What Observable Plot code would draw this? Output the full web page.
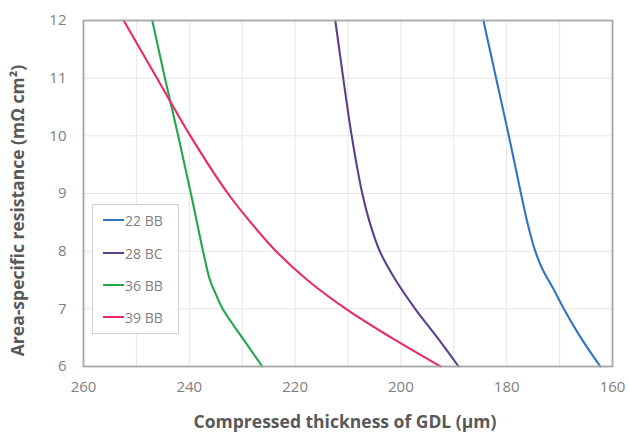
<!DOCTYPE html>
<html>
<head>
<meta charset="utf-8">
<script src="https://cdn.jsdelivr.net/npm/d3@7"></script>
<script src="https://cdn.jsdelivr.net/npm/@observablehq/plot@0.6"></script>
<style>
  html, body { margin: 0; padding: 0; background: #fff; }
  #wrap { position: relative; width: 629px; height: 435px; overflow: hidden; font-family: "Open Sans", sans-serif; }
  #legend { position: absolute; left: 92px; top: 204px; width: 87px; height: 130px; border: 1px solid #d0d0d0; background: #fff; box-sizing: border-box; }
  .row { position: absolute; left: 10px; height: 16px; display: flex; align-items: center; font-size: 14px; color: #7f7f7f; }
  .sw { width: 21px; height: 0; border-top: 2.5px solid; margin-right: 1px; }
</style>
</head>
<body>
<div id="wrap"></div>
<script>
// Series: compressed thickness (µm) vs area-specific resistance (mΩ cm²)
const seriesNames = ["22 BB", "28 BC", "36 BB", "39 BB"];
const seriesColors = ["#2e75c4", "#5e3f8e", "#22a84c", "#eb2a60"];

const bb22Thickness = [184.4, 182.0, 179.6, 177.3, 176.1, 175.4, 174.6, 173.3, 170.9, 169.2, 166.0, 162.3];
const bb22Resistance = [12, 11, 10, 9, 8.5, 8.25, 8, 7.7, 7.3, 7, 6.5, 6];

const bc28Thickness = [212.4, 210.9, 209.3, 207.3, 205.9, 204.0, 201.0, 197.3, 193.1, 189.1];
const bc28Resistance = [12, 11, 10, 9, 8.5, 8, 7.5, 7, 6.5, 6];

const bb36Thickness = [247.0, 244.6, 242.1, 239.7, 237.4, 236.1, 235.2, 233.7, 230.0, 226.2];
const bb36Resistance = [12, 11, 10, 9, 8, 7.5, 7.3, 7, 6.5, 6];

const bb39Thickness = [252.4, 246.1, 239.8, 232.7, 228.4, 223.6, 217.7, 210.4, 201.8, 192.5];
const bb39Resistance = [12, 11, 10, 9, 8.5, 8, 7.5, 7, 6.5, 6];

const xTickLabels = [260, 240, 220, 200, 180, 160];
const xGrid = [250, 240, 230, 220, 210, 200, 190, 180, 170];
const yTickLabels = [6, 7, 8, 9, 10, 11, 12];

const xTitle = "Compressed thickness of GDL (µm)";
const yTitle = "Area-specific resistance (mΩ cm²)";

const thick = [bb22Thickness, bc28Thickness, bb36Thickness, bb39Thickness];
const res = [bb22Resistance, bc28Resistance, bb36Resistance, bb39Resistance];
const rows = [];
seriesNames.forEach((name, i) => {
  const pts = thick[i].map((t, j) => ({series: name, x: t, y: res[i][j]}));
  pts.sort((a, b) => a.y - b.y);
  rows.push(...pts);
});

const tickColor = "#7f7f7f";
const titleColor = "#595959";

const chart = Plot.plot({
  width: 629,
  height: 435,
  marginLeft: 83,
  marginTop: 20,
  marginRight: 17,
  marginBottom: 69,
  style: {fontFamily: "Open Sans, sans-serif", background: "#fff"},
  x: {domain: [260, 160], label: null},
  y: {domain: [6, 12], label: null},
  color: {domain: seriesNames, range: seriesColors},
  marks: [
    Plot.gridX(xGrid, {stroke: "#e6e6e6", strokeOpacity: 1, strokeWidth: 1}),
    Plot.gridY(yTickLabels, {stroke: "#e6e6e6", strokeOpacity: 1, strokeWidth: 1}),
    Plot.axisX(xTickLabels, {tickSize: 0, tickPadding: 15, fontSize: 15, fill: tickColor, label: null, tickFormat: "d"}),
    Plot.axisY(yTickLabels, {tickSize: 0, tickPadding: 17, fontSize: 15, fill: tickColor, label: null, tickFormat: "d"}),
    Plot.line(rows, {x: "x", y: "y", z: "series", stroke: "series", strokeWidth: 2.1, curve: "catmull-rom"}),
    Plot.frame({stroke: "#a6a6a6", strokeWidth: 1.8}),
    Plot.text([xTitle], {frameAnchor: "bottom", dy: 61, dx: -3, fontSize: 17.5, fontWeight: "bold", fill: titleColor}),
    Plot.text([yTitle], {frameAnchor: "left", dx: -65, dy: 17, rotate: -90, textAnchor: "middle", fontSize: 17.5, fontWeight: "bold", fill: titleColor})
  ]
});

const wrap = document.getElementById("wrap");
wrap.appendChild(chart);

const legend = document.createElement("div");
legend.id = "legend";
const rowTops = [7, 40, 72, 104];
seriesNames.forEach((name, i) => {
  const r = document.createElement("div");
  r.className = "row";
  r.style.top = rowTops[i] + "px";
  const sw = document.createElement("span");
  sw.className = "sw";
  sw.style.borderTopColor = seriesColors[i];
  const lab = document.createElement("span");
  lab.textContent = name;
  r.appendChild(sw);
  r.appendChild(lab);
  legend.appendChild(r);
});
wrap.appendChild(legend);
</script>
</body>
</html>
